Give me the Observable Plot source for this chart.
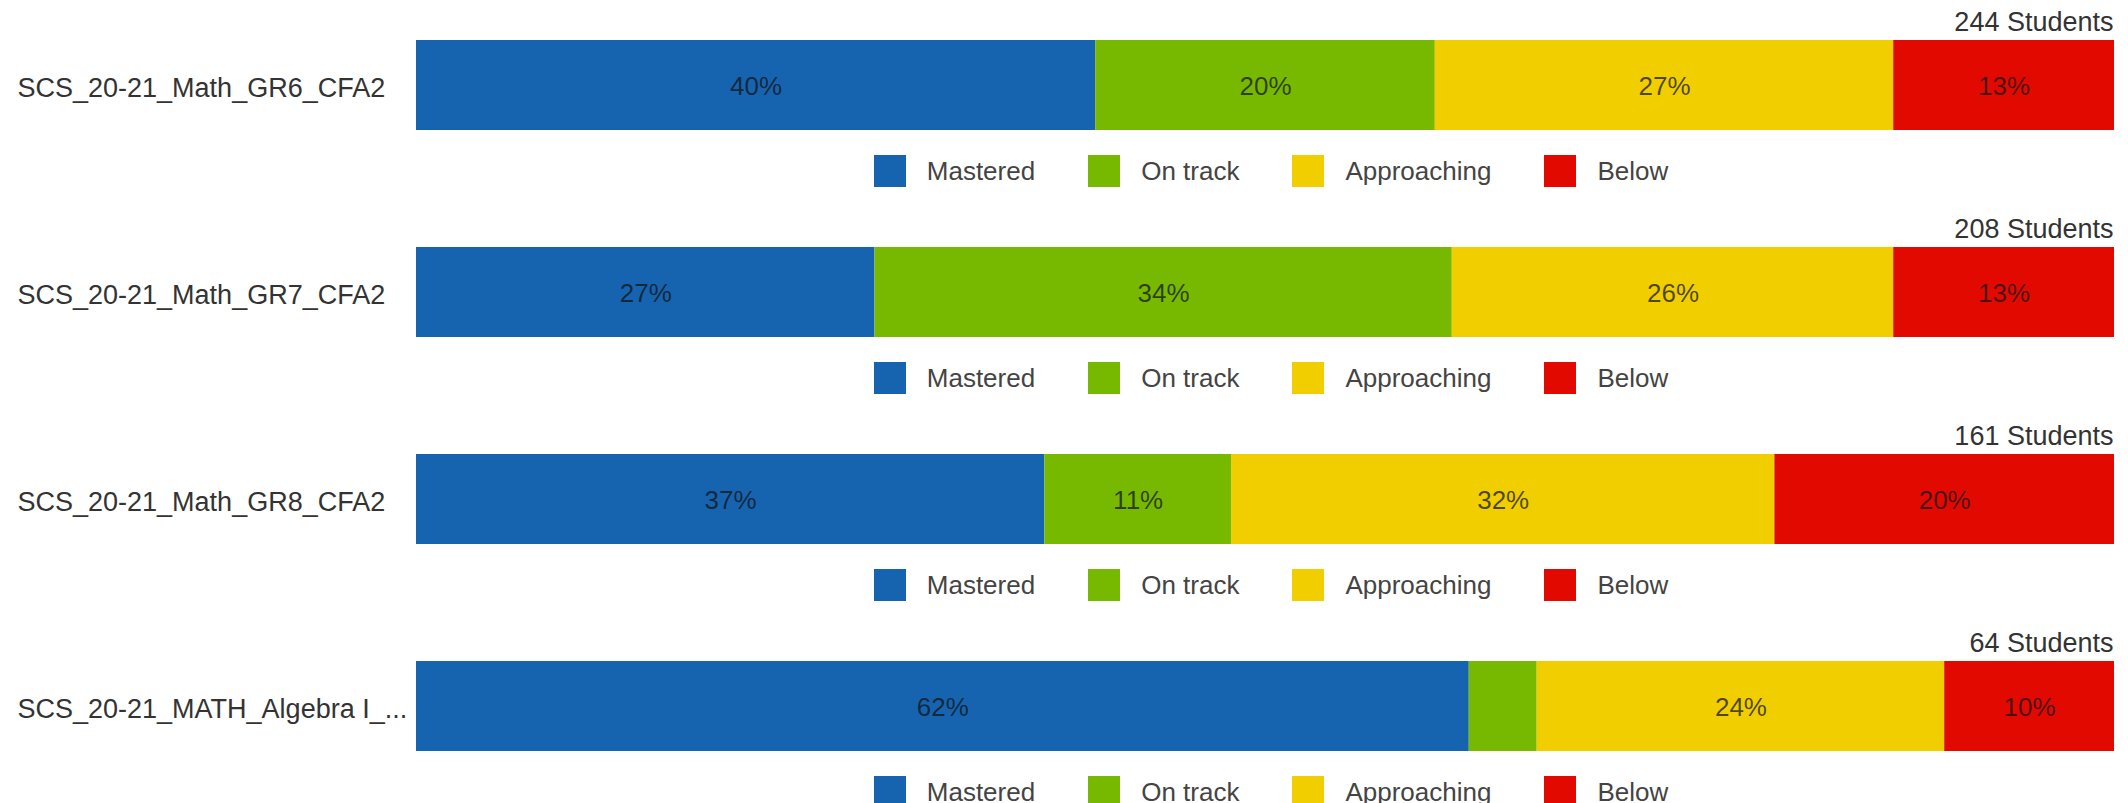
<!DOCTYPE html>
<html>
<head>
<meta charset="utf-8">
<script src="https://cdn.jsdelivr.net/npm/d3@7"></script>
<script src="https://cdn.jsdelivr.net/npm/@observablehq/plot@0.6"></script>
<style>
html, body { margin: 0; padding: 0; background: #fff; overflow: hidden; width: 2128px; height: 803px; }
#chart { font-family: "Liberation Sans", Arial, sans-serif; }
.row { height: 207px; }
.row svg { display: block; }
#chart .leg > div {
  display: flex !important; flex-wrap: nowrap !important; justify-content: center; align-items: center;
  height: 77px; box-sizing: border-box; padding: 5px 14px 0 428px; margin: 0 !important;
  font-family: "Liberation Sans", Arial, sans-serif !important; font-size: 26px !important;
  color: #444; column-gap: 53px; min-height: 0 !important;
}
#chart .leg > div > span, #chart .leg > div > div { margin: 0 !important; display: inline-flex !important; align-items: center; }
#chart .leg svg { margin-right: 21px !important; }
</style>
</head>
<body>
<div id="chart"></div>
<script>
const categories = ["SCS_20-21_Math_GR6_CFA2", "SCS_20-21_Math_GR7_CFA2", "SCS_20-21_Math_GR8_CFA2", "SCS_20-21_MATH_Algebra I_..."];
const students = [244, 208, 161, 64];
const levels = ["Mastered", "On track", "Approaching", "Below"];
const colors = ["#1664b0", "#77b900", "#f0ce00", "#e20a00"];
const mastered = [40, 27, 37, 62];
const onTrack = [20, 34, 11, 4];
const approaching = [27, 26, 32, 24];
const below = [13, 13, 20, 10];

const levelValues = [mastered, onTrack, approaching, below];
const chart = document.getElementById("chart");

categories.forEach((cat, i) => {
  const data = levels.map((l, j) => ({category: cat, level: l, value: levelValues[j][i]}));
  const row = document.createElement("div");
  row.className = "row";
  const svg = Plot.plot({
    width: 2128, height: 130,
    marginTop: 40, marginBottom: 0, marginLeft: 416, marginRight: 14,
    style: {fontFamily: "Liberation Sans, Arial, sans-serif", background: "#fff", color: "#333", overflow: "visible"},
    x: {domain: [0, 100], axis: null},
    y: {domain: [cat], padding: 0},
    color: {domain: levels, range: colors},
    marks: [
      Plot.barX(data, {x: "value", y: "category", fill: "level"}),
      Plot.text(data, Plot.stackX({
        x: "value", y: "category",
        text: d => d.value >= 5 ? d.value + "%" : null,
        fill: "#111", fillOpacity: 0.72, fontSize: 26, dy: 1
      })),
      Plot.text([students[i]], {
        frameAnchor: "top-right", text: d => `${d} Students`,
        textAnchor: "end", lineAnchor: "bottom", dy: -10, dx: -1,
        fontSize: 27, fill: "#333"
      }),
      Plot.axisY({tickSize: 0, tickPadding: 399, textAnchor: "start", fontSize: 27, label: null, dy: 3})
    ]
  });
  row.appendChild(svg);
  const leg = document.createElement("div");
  leg.className = "leg";
  leg.appendChild(Plot.legend({
    color: {domain: levels, range: colors},
    legend: "swatches", swatchSize: 32, className: "lg"
  }));
  row.appendChild(leg);
  chart.appendChild(row);
});
</script>
</body>
</html>
